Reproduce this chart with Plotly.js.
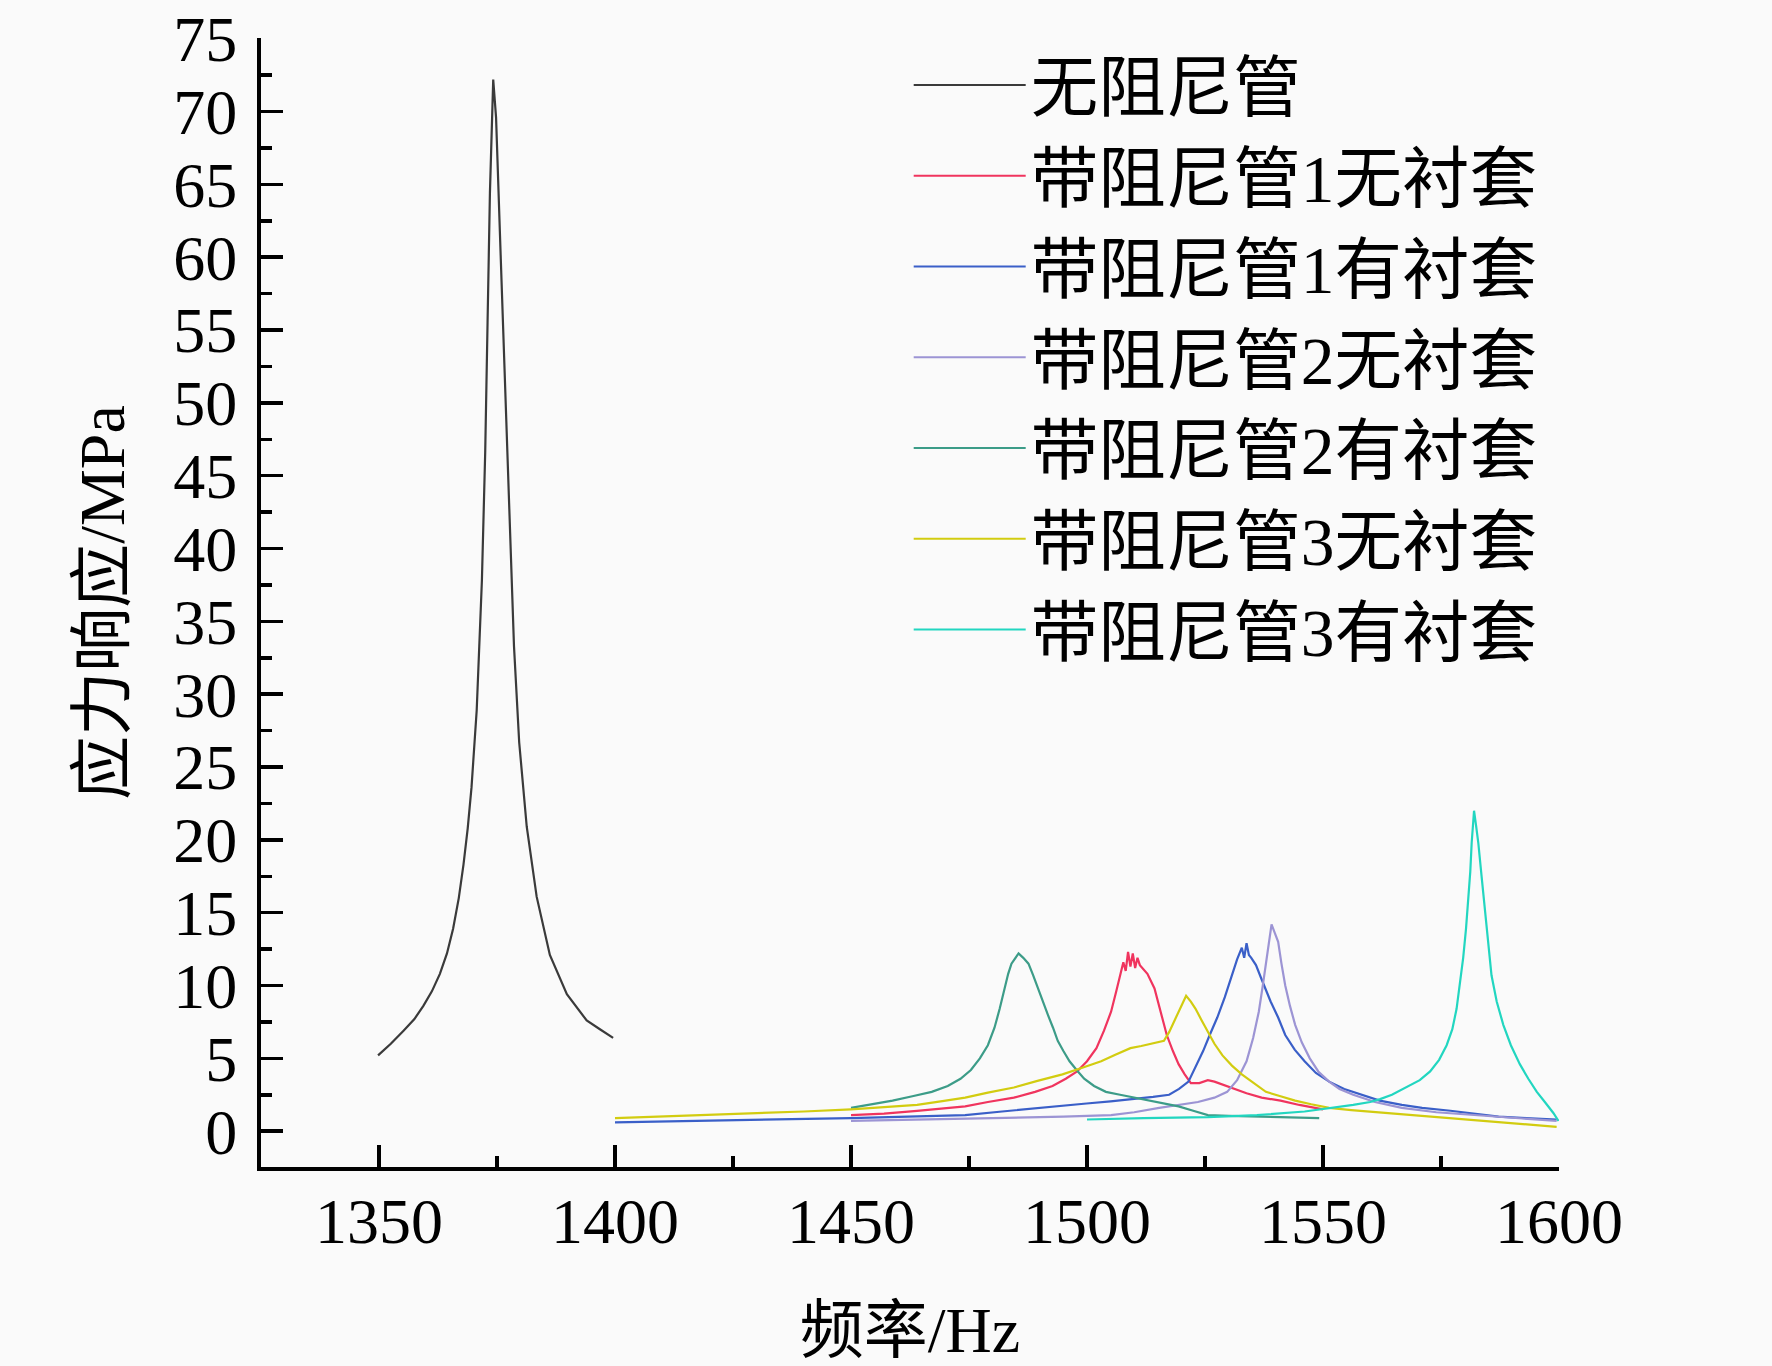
<!DOCTYPE html>
<html>
<head>
<meta charset="utf-8">
<script src="https://cdn.plot.ly/plotly-3.0.1.min.js"></script>
<style>
  html, body { margin: 0; padding: 0; background: #fafafa; }
  #chart { width: 1772px; height: 1366px; }
</style>
</head>
<body>
<div id="chart"></div>
<script>
// series names (legend order)
var names = ['无阻尼管', '带阻尼管1无衬套', '带阻尼管1有衬套', '带阻尼管2无衬套',
             '带阻尼管2有衬套', '带阻尼管3无衬套', '带阻尼管3有衬套'];

// 无阻尼管
var f1 = [1349.8,1352.5,1355.2,1357.5,1359.4,1361.2,1362.9,1364.4,1365.7,1366.9,1367.9,1368.8,1369.6,1370.7,1371.8,1372.5,1373.0,1373.5,1374.2,1374.8,1375.8,1376.7,1377.6,1378.6,1379.7,1381.3,1383.4,1386.2,1389.8,1394.0,1396.8,1399.6];
var s1 = [5.2,6.0,6.9,7.7,8.6,9.6,10.8,12.2,13.9,16.0,18.3,20.8,23.6,28.9,37.8,46.6,55.5,64.4,72.2,69.6,59.9,51.0,42.2,33.3,26.7,20.9,16.1,12.1,9.4,7.6,7.0,6.4];

// 带阻尼管1无衬套
var f2 = [1450,1457,1464,1469,1474.2,1479,1484.5,1489,1492.7,1495.5,1497.9,1500,1502,1503.6,1505.1,1506.2,1507.1,1507.7,1508.2,1508.7,1509.2,1509.7,1510.2,1510.7,1511.2,1512.8,1514.3,1515.6,1516.9,1518.2,1519.4,1520.7,1522,1523.8,1525.6,1527,1528.7,1531,1533.8,1537,1541,1545,1548.2,1550];
var s2 = [1.1,1.2,1.4,1.55,1.7,2.0,2.3,2.7,3.1,3.6,4.1,4.8,5.7,6.9,8.2,9.6,10.7,11.6,11.0,12.3,11.3,12.2,11.2,11.9,11.4,10.8,9.8,8.2,6.6,5.5,4.6,3.9,3.3,3.3,3.5,3.4,3.2,2.9,2.6,2.3,2.1,1.8,1.6,1.5];

// 带阻尼管1有衬套
var f3 = [1400,1410,1420,1430,1440,1450,1462,1474.2,1482,1489.6,1495,1499.9,1505,1510.2,1514,1517.4,1519.5,1521.5,1523,1524.6,1526,1527.6,1529.2,1530.7,1531.8,1532.8,1533.3,1533.8,1534.3,1534.8,1535.8,1536.9,1538,1538.9,1540.5,1542,1544,1546.1,1548.5,1551.3,1554.5,1558.4,1562,1566.7,1571,1577,1582,1587.2,1593,1599.5];
var s3 = [0.6,0.65,0.7,0.75,0.8,0.9,1.0,1.1,1.35,1.6,1.75,1.9,2.05,2.2,2.35,2.5,2.9,3.4,4.4,5.5,6.6,7.8,9.2,10.7,11.8,12.6,11.9,12.9,12.1,11.9,11.4,10.5,9.6,8.9,7.8,6.6,5.6,4.8,4.0,3.4,2.9,2.5,2.1,1.8,1.6,1.4,1.2,1.0,0.9,0.8];

// 带阻尼管2无衬套
var f4 = [1450,1467,1484.5,1495,1505.1,1510,1515.3,1519.5,1523.5,1527,1529.7,1531.8,1533.8,1535.2,1536.4,1537.2,1537.9,1538.5,1539.1,1539.8,1540.5,1541.2,1542,1543,1544.1,1545.5,1547.2,1549,1551.3,1553.5,1556.4,1561,1566.7,1574,1582.1,1590,1599.5];
var s4 = [0.7,0.8,0.9,1.0,1.1,1.3,1.6,1.8,2.0,2.3,2.7,3.5,4.8,6.4,8.2,9.9,11.6,13.0,14.2,13.6,13.0,11.5,10.0,8.6,7.3,6.1,5.0,4.1,3.4,2.9,2.5,2.0,1.6,1.3,1.1,0.9,0.7];

// 带阻尼管2有衬套
var f5 = [1450,1454.5,1458.8,1463,1467.1,1470.5,1473.2,1475.4,1477.3,1479,1480.4,1481.5,1482.5,1483.3,1484,1484.8,1485.5,1486.5,1487.6,1488.6,1489.6,1490.7,1491.7,1492.8,1493.8,1495,1496.3,1497.8,1499.4,1501.5,1504,1507,1510.2,1513,1516.3,1519.4,1522.5,1525.6,1530,1535.9,1542,1549.2];
var s5 = [1.6,1.85,2.1,2.4,2.7,3.1,3.6,4.2,5.0,5.9,7.1,8.4,9.8,10.8,11.5,11.9,12.2,11.9,11.5,10.7,9.8,8.9,8.0,7.1,6.2,5.5,4.8,4.2,3.6,3.1,2.7,2.5,2.3,2.1,1.9,1.7,1.4,1.1,1.05,1.0,0.95,0.9];

// 带阻尼管3无衬套
var f6 = [1400,1410,1420,1430,1440,1450,1457,1464,1469,1474.2,1479,1484.5,1489.5,1494.8,1499,1503,1506,1509.2,1511.5,1513.3,1514.8,1516.3,1517.4,1518.4,1519.7,1521,1522,1523,1524.3,1525.6,1527,1528.7,1530.7,1532.8,1535.3,1537.9,1541,1544.1,1547.5,1551.3,1556,1561.5,1569,1577,1588,1599.5];
var s6 = [0.9,1.0,1.1,1.2,1.35,1.5,1.65,1.8,2.05,2.3,2.65,3.0,3.45,3.9,4.35,4.8,5.25,5.7,5.85,6.0,6.1,6.2,6.8,7.5,8.4,9.3,8.9,8.4,7.6,6.8,6.0,5.2,4.5,3.9,3.3,2.7,2.4,2.1,1.85,1.6,1.45,1.3,1.1,0.9,0.6,0.3];

// 带阻尼管3有衬套
var f7 = [1500,1512,1525.6,1536,1546.1,1551,1556.4,1560,1562.1,1564.6,1567.7,1570.5,1572.7,1574.6,1576.2,1577.4,1578.3,1579,1579.7,1580.3,1580.8,1581.2,1581.5,1582,1582.5,1582.9,1583.6,1584.3,1585,1585.7,1586.8,1588.2,1589.8,1591.7,1593.5,1595.3,1597,1598.8,1599.9];
var s7 = [0.8,0.9,0.96,1.1,1.35,1.55,1.8,2.0,2.2,2.5,3.0,3.5,4.1,4.9,5.9,7.0,8.4,10.0,11.9,13.9,16.0,17.8,19.8,22.0,20.8,19.8,17.5,15.3,13.0,10.7,8.9,7.3,5.9,4.6,3.6,2.7,2.0,1.25,0.7];

var freqs = [f1, f2, f3, f4, f5, f6, f7];
var vals = [s1, s2, s3, s4, s5, s6, s7];
var colors = ['#3a3a3a', '#f0345e', '#3a5fc8', '#9c94d4', '#3c9c88', '#d2cc10', '#22d6c0'];

var serif = '"Liberation Serif", "Times New Roman", "Noto Sans CJK SC", serif';

var data = [];
for (var i = 0; i < names.length; i++) {
    data.push({
        x: freqs[i], y: vals[i],
        type: 'scatter', mode: 'lines', name: names[i],
        line: {color: colors[i], width: 2.2}
    });
}

var layout = {
    width: 1772, height: 1366,
    paper_bgcolor: '#fafafa', plot_bgcolor: '#fafafa',
    margin: {l: 261, r: 213, t: 38, b: 199},
    font: {family: serif, color: '#000', size: 64},
    showlegend: true,
    legend: {
        x: 0.499, y: 1.003, xanchor: 'left', yanchor: 'top',
        bgcolor: 'rgba(0,0,0,0)', font: {family: serif, size: 67.5, color: '#000'},
        itemwidth: 112, tracegroupgap: 0
    },
    xaxis: {
        range: [1325, 1600], tickvals: [1350, 1400, 1450, 1500, 1550, 1600],
        ticks: 'inside', ticklen: 22, tickwidth: 3.5, tickcolor: '#000',
        minor: {ticks: 'inside', ticklen: 11, tickwidth: 3.5, tickcolor: '#000', dtick: 50, tick0: 1325},
        showline: true, linewidth: 4, linecolor: '#000', mirror: false,
        showgrid: false, zeroline: false, ticklabelstandoff: -5,
        ticklabeloverflow: 'allow',
        tickfont: {family: serif, size: 64},
        title: {text: '频率/Hz', font: {family: serif, size: 64}, standoff: 56}
    },
    yaxis: {
        range: [-2.46, 75.05], tick0: 0, dtick: 5,
        ticks: 'inside', ticklen: 22, tickwidth: 3.5, tickcolor: '#000',
        minor: {ticks: 'inside', ticklen: 11, tickwidth: 3.5, tickcolor: '#000', dtick: 5, tick0: 2.5},
        showline: true, linewidth: 4, linecolor: '#000', mirror: false,
        showgrid: false, zeroline: false, ticklabelstandoff: 7,
        ticklabeloverflow: 'allow',
        tickfont: {family: serif, size: 64},
        title: {text: '应力响应/MPa', font: {family: serif, size: 64}, standoff: 29}
    }
};

Plotly.newPlot('chart', data, layout, {displayModeBar: false, staticPlot: true});
</script>
</body>
</html>
